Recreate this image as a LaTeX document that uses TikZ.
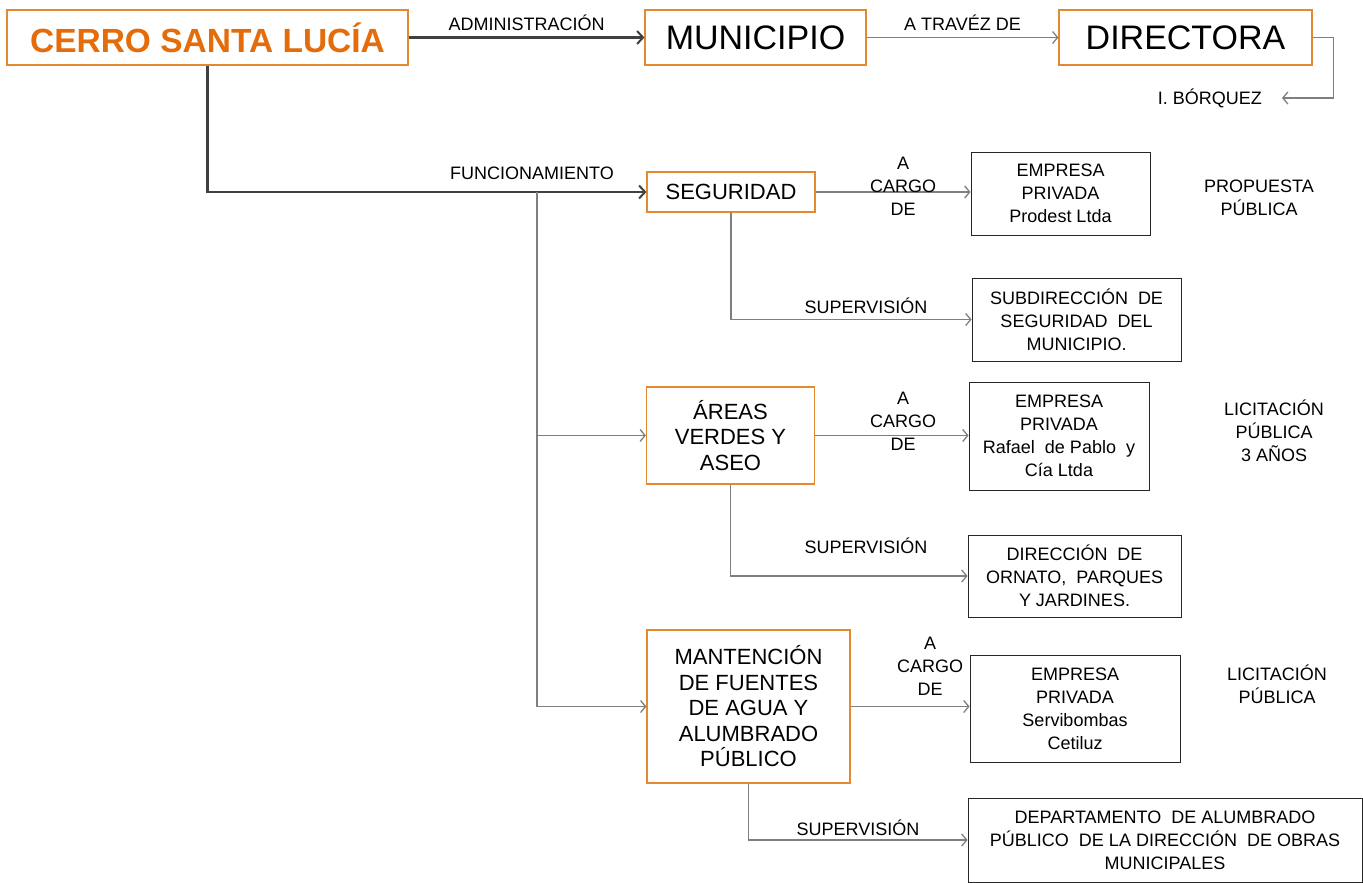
\documentclass[tikz,border=0pt]{standalone}
\usepackage{fontspec}
\setmainfont{Liberation Sans}
\usetikzlibrary{arrows.meta}
\definecolor{orbox}{HTML}{E3892F}
\definecolor{ortext}{HTML}{E46C0A}
\definecolor{darkln}{HTML}{404040}
\definecolor{thinln}{HTML}{7F7F7F}
\tikzset{
  obox/.style={draw=orbox, line width=1.2bp, fill=white, align=center, inner sep=0pt},
  wbox/.style={draw=black!85, line width=0.9bp, fill=white, align=center, inner sep=0pt,
    font=\fontsize{18bp}{23bp}\selectfont},
  lbl/.style={align=center, inner sep=0pt, font=\fontsize{18bp}{23bp}\selectfont},
  big/.style={font=\fontsize{34bp}{36bp}\selectfont},
  mid/.style={font=\fontsize{22bp}{25.5bp}\selectfont},
  thickarr/.style={draw=darkln, line width=2.2bp, -{Straight Barb[length=6bp,width=13bp,line width=2bp]}},
  thickln/.style={draw=darkln, line width=2.2bp},
  thinarr/.style={draw=thinln, line width=1.3bp, -{Straight Barb[length=5bp,width=12bp,line width=1.3bp]}},
  thinln/.style={draw=thinln, line width=1.3bp},
}
\begin{document}
\begin{tikzpicture}[x=1bp,y=-1bp]
\useasboundingbox (0,0) rectangle (1363,882);
% top row
\node[obox, minimum width=401bp, minimum height=55bp, text=ortext,
  font=\fontsize{33.5bp}{35bp}\selectfont\bfseries] (cerro) at (207.5,37.5) {CERRO SANTA LUCÍA};
\node[obox, big, minimum width=221bp, minimum height=55bp] (muni) at (755.5,37.5) {MUNICIPIO};
\node[obox, big, minimum width=253bp, minimum height=55bp] (dir) at (1185.5,37.5) {DIRECTORA};
% functional boxes
\node[obox, mid, minimum width=168bp, minimum height=40bp] (seg) at (731,192) {SEGURIDAD};
\node[obox, mid, minimum width=168bp, minimum height=97bp] (areas) at (730.5,435.5) {ÁREAS\\VERDES Y\\ASEO};
\node[obox, mid, minimum width=203bp, minimum height=153bp] (mant) at (748.5,706.5)
  {MANTENCIÓN\\DE FUENTES\\DE AGUA Y\\ALUMBRADO\\PÚBLICO};
% right boxes
\node[wbox, minimum width=179bp, minimum height=83bp] (prod) at (1060.5,193.5) {EMPRESA\\PRIVADA\\Prodest Ltda};
\node[wbox, minimum width=209bp, minimum height=83bp] (sub) at (1076.5,319.5) {SUBDIRECCIÓN \ DE\\SEGURIDAD \ DEL\\MUNICIPIO.};
\node[wbox, minimum width=180bp, minimum height=108bp] (raf) at (1059,436) {EMPRESA\\PRIVADA\\Rafael \ de Pablo \ y\\Cía Ltda};
\node[wbox, minimum width=213bp, minimum height=82bp] (orn) at (1074.5,576) {DIRECCIÓN \ DE\\ORNATO, \ PARQUES\\Y JARDINES.};
\node[wbox, minimum width=210bp, minimum height=107bp] (serv) at (1075,708.5) {EMPRESA\\PRIVADA\\Servibombas\\Cetiluz};
\node[wbox, minimum width=394bp, minimum height=84bp] (dep) at (1165,840) {DEPARTAMENTO \ DE ALUMBRADO\\PÚBLICO \ DE LA DIRECCIÓN \ DE OBRAS\\MUNICIPALES};
% side labels
\node[lbl] (prop) at (1259,198) {PROPUESTA\\PÚBLICA};
\node[lbl] (lic1) at (1274,431) {LICITACIÓN\\PÚBLICA\\3 AÑOS};
\node[lbl] (lic2) at (1277,684) {LICITACIÓN\\PÚBLICA};
% connectors top
\draw[thickarr] (cerro.east) -- node[lbl, above=6bp] {ADMINISTRACIÓN} (muni.west);
\draw[thinarr] (muni.east) -- node[lbl, above=6bp] {A TRAVÉZ DE} (dir.west);
\coordinate (bqend) at (1282,98);
\node[lbl, anchor=east] (bq) at (1262,98) {I. BÓRQUEZ};
\draw[thinarr] (dir.east) -- ++(21,0) |- (bqend);
% funcionamiento
\draw[thickarr] (cerro.south) |- (seg.west);
\node[lbl] (func) at (532,173) {FUNCIONAMIENTO};
\coordinate (br) at (537,0);
\draw[thinln] (br |- seg.west) -- (br |- mant.west);
\draw[thinarr] (br |- areas.west) -- (areas.west);
\draw[thinarr] (br |- mant.west) -- (mant.west);
% a cargo de
\draw[thinarr] (seg.east) -- (seg.east -| prod.west);
\node[lbl] (ac1) at (903,186) {A\\CARGO\\DE};
\draw[thinarr] (areas.east) -- (areas.east -| raf.west);
\node[lbl] (ac2) at (903,421) {A\\CARGO\\DE};
\draw[thinarr] (mant.east) -- (mant.east -| serv.west);
\node[lbl] (ac3) at (930,666) {A\\CARGO\\DE};
% supervision
\draw[thinarr] (seg.south) |- (sub.west);
\node[lbl] (sup1) at (866,306) {SUPERVISIÓN};
\draw[thinarr] (areas.south) |- (orn.west);
\node[lbl] (sup2) at (866,546) {SUPERVISIÓN};
\draw[thinarr] (mant.south) |- (dep.west);
\node[lbl] (sup3) at (858,828) {SUPERVISIÓN};
\end{tikzpicture}
\end{document}
